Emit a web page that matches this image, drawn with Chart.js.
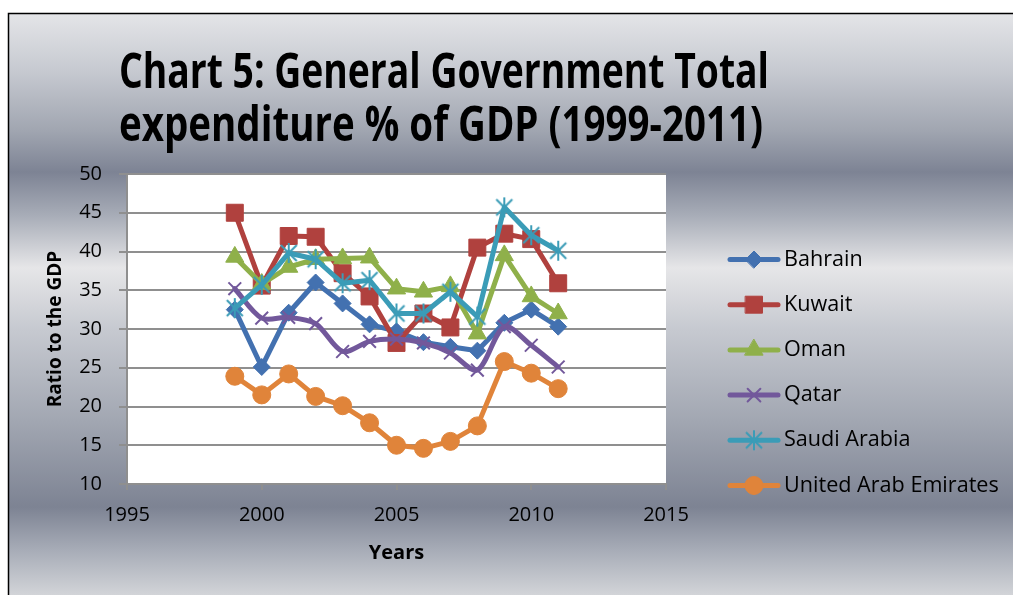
<!DOCTYPE html>
<html>
<head>
<meta charset="utf-8">
<script src="https://cdn.jsdelivr.net/npm/chart.js@4.4.1/dist/chart.umd.min.js"></script>
<style>
  html, body { margin: 0; padding: 0; background: #fff; overflow: hidden; }
  #wrap { width: 1013px; height: 595px; position: relative; }
  canvas { display: block; }
</style>
</head>
<body>
<div id="wrap"><canvas id="chart" width="1013" height="595"></canvas></div>
<script>
// General government total expenditure, % of GDP, GCC countries
const years = [1999, 2000, 2001, 2002, 2003, 2004, 2005, 2006, 2007, 2008, 2009, 2010, 2011];
const bahrain = [32.5, 25.1, 32.1, 36.0, 33.3, 30.6, 29.7, 28.3, 27.7, 27.2, 30.8, 32.5, 30.3];
const kuwait  = [45.0, 35.6, 42.0, 41.9, 37.2, 34.2, 28.2, 32.0, 30.2, 40.5, 42.3, 41.6, 35.9];
const oman    = [39.3, 35.8, 38.0, 39.0, 39.1, 39.2, 35.2, 34.8, 35.5, 29.4, 39.5, 34.2, 32.0];
const qatar   = [35.2, 31.4, 31.5, 30.7, 27.1, 28.4, 28.7, 28.2, 26.9, 24.7, 30.3, 27.9, 25.1];
const saudi   = [32.7, 35.7, 39.8, 39.0, 35.9, 36.3, 32.0, 32.0, 34.8, 31.6, 45.7, 42.1, 40.1];
const uae     = [23.9, 21.5, 24.2, 21.3, 20.1, 17.9, 15.0, 14.6, 15.5, 17.5, 25.8, 24.3, 22.3];

const seriesNames = ['Bahrain', 'Kuwait', 'Oman', 'Qatar', 'Saudi Arabia', 'United Arab Emirates'];
const seriesValues = [bahrain, kuwait, oman, qatar, saudi, uae];

const titleLines = ['Chart 5: General Government Total', 'expenditure % of GDP (1999-2011)'];
const yAxisTitle = 'Ratio to the GDP';
const xAxisTitle = 'Years';
const yTicks = [10, 15, 20, 25, 30, 35, 40, 45, 50];
const xTicks = [1995, 2000, 2005, 2010, 2015];

// asterisk marker: vertical stroke plus a diagonal cross
function asteriskMarker(color, r) {
  const size = Math.ceil(r * 2 + 4);
  const c = document.createElement('canvas');
  c.width = size; c.height = size;
  const g = c.getContext('2d');
  const m = size / 2, d = r * 0.8;
  g.strokeStyle = color;
  g.lineWidth = 2;
  g.beginPath();
  g.moveTo(m, m - r); g.lineTo(m, m + r);
  g.moveTo(m - d, m - d); g.lineTo(m + d, m + d);
  g.moveTo(m - d, m + d); g.lineTo(m + d, m - d);
  g.stroke();
  return c;
}

const styles = [
  { color: '#4371b0', point: 'rectRot',  radius: 8.5, pbw: 1 },
  { color: '#b0413e', point: 'rect',     radius: 12,  pbw: 1 },
  { color: '#8fb04a', point: 'triangle', radius: 10.5, pbw: 1 },
  { color: '#72589b', point: 'crossRot', radius: 9,   pbw: 2, tension: 0.3 },
  { color: '#3b9cb7', point: null,       radius: 10,  pbw: 2 },
  { color: '#e0843a', point: 'circle',   radius: 9,   pbw: 1 }
];
styles[4].point = asteriskMarker(styles[4].color, 10);

const datasets = seriesNames.map((name, i) => ({
  label: name,
  data: years.map((yr, k) => ({ x: yr, y: seriesValues[i][k] })),
  borderColor: styles[i].color,
  backgroundColor: styles[i].color,
  borderWidth: 5,
  borderJoinStyle: 'round',
  borderCapStyle: 'round',
  tension: styles[i].tension || 0,
  pointStyle: styles[i].point,
  pointRadius: styles[i].radius,
  pointBorderWidth: styles[i].pbw,
  pointBackgroundColor: styles[i].color,
  pointBorderColor: styles[i].color,
  order: seriesNames.length - 1 - i,
  fill: false
}));

const frame = { left: 8, top: 13 };

const backdrop = {
  id: 'backdrop',
  beforeDraw(chart) {
    const { ctx, width, height, chartArea: a } = chart;
    ctx.save();
    ctx.fillStyle = '#ffffff';
    ctx.fillRect(0, 0, width, height);
    const span = height - frame.top;
    const g = ctx.createLinearGradient(0, frame.top, 0, height);
    const stops = [
      [13, '#e4e5e8'], [70, '#c7cad1'], [130, '#a1a6b1'], [172, '#7d8394'],
      [215, '#a7acb7'], [268, '#e6e6e8'], [330, '#c6c9d0'], [420, '#a2a7b2'],
      [507, '#7d8393'], [550, '#a7acb7'], [595, '#d2d4d8']
    ];
    stops.forEach(([y, c]) => g.addColorStop((y - frame.top) / span, c));
    ctx.fillStyle = g;
    ctx.fillRect(frame.left, frame.top, width - frame.left, height - frame.top);
    ctx.strokeStyle = '#000000';
    ctx.lineWidth = 1.5;
    ctx.beginPath();
    ctx.moveTo(frame.left + 0.5, height);
    ctx.lineTo(frame.left + 0.5, frame.top + 0.5);
    ctx.lineTo(width, frame.top + 0.5);
    ctx.stroke();
    ctx.fillStyle = '#ffffff';
    ctx.fillRect(a.left, a.top, a.right - a.left, a.bottom - a.top);
    ctx.restore();
  }
};

const headline = {
  id: 'headline',
  afterDraw(chart) {
    const ctx = chart.ctx;
    ctx.save();
    ctx.fillStyle = '#000000';
    ctx.font = 'bold 48px "Open Sans"';
    ctx.textAlign = 'left';
    ctx.textBaseline = 'alphabetic';
    ctx.fillText(titleLines[0], 119, 88, 650);
    ctx.fillText(titleLines[1], 119, 141, 644);
    ctx.restore();
  }
};

const sideLegend = {
  id: 'sideLegend',
  afterDraw(chart) {
    const ctx = chart.ctx;
    ctx.save();
    chart.data.datasets.forEach((ds, i) => {
      const y = 259.5 + i * 45.2;
      ctx.strokeStyle = ds.borderColor;
      ctx.lineWidth = 5;
      ctx.lineCap = 'round';
      ctx.beginPath();
      ctx.moveTo(730, y);
      ctx.lineTo(778, y);
      ctx.stroke();
      ctx.fillStyle = ds.pointBackgroundColor;
      ctx.strokeStyle = ds.pointBorderColor;
      ctx.lineWidth = ds.pointBorderWidth;
      Chart.helpers.drawPoint(ctx, {
        pointStyle: ds.pointStyle,
        radius: ds.pointRadius,
        rotation: 0,
        borderWidth: ds.pointBorderWidth
      }, 754, y);
      ctx.fillStyle = '#000000';
      ctx.font = '21.6px "Open Sans"';
      ctx.textAlign = 'left';
      ctx.textBaseline = 'middle';
      ctx.fillText(ds.label, 784, y);
    });
    ctx.restore();
  }
};

const gridGray = '#8f8f8f';

new Chart(document.getElementById('chart'), {
  type: 'line',
  data: { datasets },
  plugins: [backdrop, headline, sideLegend],
  options: {
    responsive: false,
    animation: false,
    devicePixelRatio: 1,
    layout: { padding: { top: 174, right: 347, bottom: 0, left: 0 } },
    plugins: {
      legend: { display: false },
      title: { display: false },
      tooltip: { enabled: false }
    },
    scales: {
      x: {
        type: 'linear',
        min: xTicks[0],
        max: xTicks[xTicks.length - 1],
        afterBuildTicks(scale) { scale.ticks = xTicks.map(v => ({ value: v })); },
        afterFit(scale) { scale.height = 111; },
        ticks: {
          callback: v => String(v),
          color: '#000000',
          font: { family: '"Open Sans"', size: 20 },
          padding: 13,
          maxRotation: 0
        },
        grid: { drawOnChartArea: false, drawTicks: true, tickLength: 6, color: gridGray, lineWidth: 2 },
        border: { display: true, color: gridGray, width: 2 },
        title: {
          display: true,
          text: xAxisTitle,
          color: '#000000',
          font: { family: '"Open Sans"', size: 20, weight: 'bold' },
          padding: { top: 0, bottom: 30 }
        }
      },
      y: {
        type: 'linear',
        min: yTicks[0],
        max: yTicks[yTicks.length - 1],
        afterBuildTicks(scale) { scale.ticks = yTicks.map(v => ({ value: v })); },
        afterFit(scale) { scale.width = 127; },
        ticks: {
          callback: v => String(v),
          color: '#000000',
          font: { family: '"Open Sans"', size: 20 },
          padding: 17
        },
        grid: { drawTicks: true, tickLength: 8, color: gridGray, lineWidth: 2 },
        border: { display: true, color: gridGray, width: 2 },
        title: {
          display: true,
          text: yAxisTitle,
          color: '#000000',
          font: { family: '"Open Sans"', size: 19, weight: 'bold' },
          padding: { top: 44, bottom: 0 }
        }
      }
    }
  }
});
</script>
</body>
</html>
